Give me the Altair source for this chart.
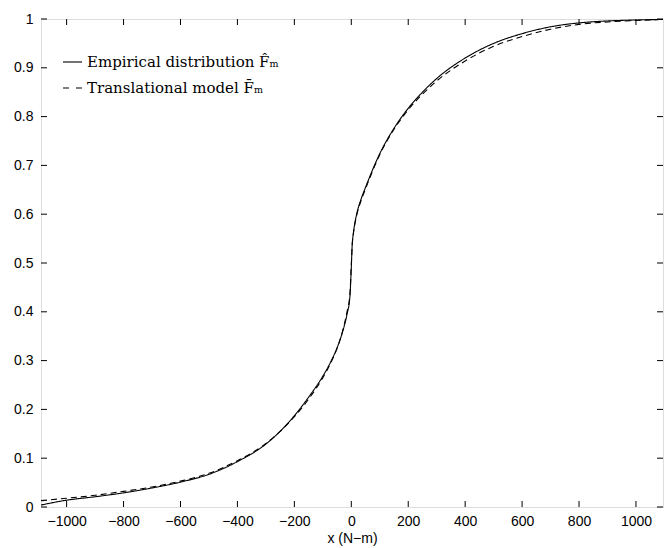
import altair as alt
import pandas as pd

# Empirical distribution (solid)
emp_x = [-1090, -1000, -900, -800, -700, -600, -500, -400, -300, -250, -200, -150, -100,
         -70, -50, -30, -15, -5, 0, 3, 7, 12, 20, 35, 50, 100, 150, 200, 250, 300, 400, 500, 600,
         700, 800, 900, 1000, 1095]
emp_y = [0.004, 0.014, 0.021, 0.029, 0.039, 0.051, 0.067, 0.093, 0.129, 0.155, 0.187, 0.225,
         0.268, 0.300, 0.326, 0.360, 0.395, 0.430, 0.490, 0.535, 0.560, 0.580, 0.603, 0.632,
         0.655, 0.724, 0.776, 0.817, 0.850, 0.878, 0.920, 0.950, 0.970, 0.984, 0.992, 0.996,
         0.998, 0.999]

# Translational model (dashed)
mod_x = emp_x
mod_y = [0.013, 0.018, 0.024, 0.032, 0.041, 0.053, 0.069, 0.095, 0.130, 0.155, 0.185, 0.221,
         0.265, 0.298, 0.325, 0.362, 0.400, 0.435, 0.495, 0.535, 0.558, 0.578, 0.600, 0.629,
         0.652, 0.722, 0.774, 0.814, 0.846, 0.873, 0.914, 0.944, 0.964, 0.979, 0.989, 0.994,
         0.997, 0.999]

x_ticks = [-1000, -800, -600, -400, -200, 0, 200, 400, 600, 800, 1000]
y_ticks = [0, 0.1, 0.2, 0.3, 0.4, 0.5, 0.6, 0.7, 0.8, 0.9, 1]

W, H = 622, 488
XD = [-1090, 1095]

rows = []
for xv, yv in zip(emp_x, emp_y):
    rows.append({"x": xv, "F": yv, "series": "Empirical"})
for xv, yv in zip(mod_x, mod_y):
    rows.append({"x": xv, "F": yv, "series": "Model"})
df = pd.DataFrame(rows)

xs = alt.Scale(domain=XD, nice=False, zero=False)
ys = alt.Scale(domain=[0, 1], nice=False, zero=False)

lines = alt.Chart(df).mark_line(color="black", strokeWidth=1.1, interpolate="monotone").encode(
    x=alt.X("x:Q", scale=xs, title="x (N−m)",
            axis=alt.Axis(values=x_ticks, format="d", ticks=False, domain=False, grid=False,
                          labelFont="Liberation Sans", labelFontSize=14, labelColor="black",
                          labelPadding=7, titleFont="Liberation Sans", titleFontSize=14,
                          titleFontWeight="normal", titleColor="black", titlePadding=3)),
    y=alt.Y("F:Q", scale=ys, title=None,
            axis=alt.Axis(values=y_ticks, ticks=False, domain=False, grid=False,
                          labelFont="Liberation Sans", labelFontSize=14, labelColor="black",
                          labelPadding=8, labelExpr="datum.value == 0 ? '0' : datum.value == 1 ? '1' : format(datum.value, '.1f')")),
    strokeDash=alt.StrokeDash("series:N", legend=None,
                              scale=alt.Scale(domain=["Empirical", "Model"], range=[[1, 0], [6, 4]])),
    detail="series:N",
)

xt = pd.DataFrame({"t": x_ticks})
yt = pd.DataFrame({"t": y_ticks})
tick_b = alt.Chart(xt).mark_rule(color="black").encode(x=alt.X("t:Q", scale=xs), y=alt.value(H), y2=alt.value(H - 6))
tick_t = alt.Chart(xt).mark_rule(color="black").encode(x=alt.X("t:Q", scale=xs), y=alt.value(0), y2=alt.value(6))
tick_l = alt.Chart(yt).mark_rule(color="black").encode(y=alt.Y("t:Q", scale=ys), x=alt.value(0), x2=alt.value(6))
tick_r = alt.Chart(yt).mark_rule(color="black").encode(y=alt.Y("t:Q", scale=ys), x=alt.value(W), x2=alt.value(W - 6))

one = pd.DataFrame({"a": [0]})
leg_solid = alt.Chart(one).mark_rule(color="black", strokeWidth=1.1).encode(
    x=alt.value(22), x2=alt.value(41), y=alt.value(43))
leg_dash = alt.Chart(one).mark_rule(color="black", strokeWidth=1.1, strokeDash=[6, 7]).encode(
    x=alt.value(22), x2=alt.value(41), y=alt.value(69))
leg_t1 = alt.Chart(one).mark_text(
    text="Empirical distribution F̂ₘ", font="DejaVu Serif", fontSize=15, align="left", baseline="middle", color="black"
).encode(x=alt.value(46), y=alt.value(43))
leg_t2 = alt.Chart(one).mark_text(
    text="Translational model F̄ₘ", font="DejaVu Serif", fontSize=15, align="left", baseline="middle", color="black"
).encode(x=alt.value(46), y=alt.value(69))

chart = alt.layer(lines, tick_b, tick_t, tick_l, tick_r, leg_solid, leg_dash, leg_t1, leg_t2).properties(
    width=W, height=H,
    autosize=alt.AutoSizeParams(type="none"),
    padding={"left": 41, "top": 19, "right": 6, "bottom": 41},
).configure_view(stroke="black", strokeWidth=1.2).configure(background="white")

chart.save("out.html", embed_options={"renderer": "svg", "actions": False})
